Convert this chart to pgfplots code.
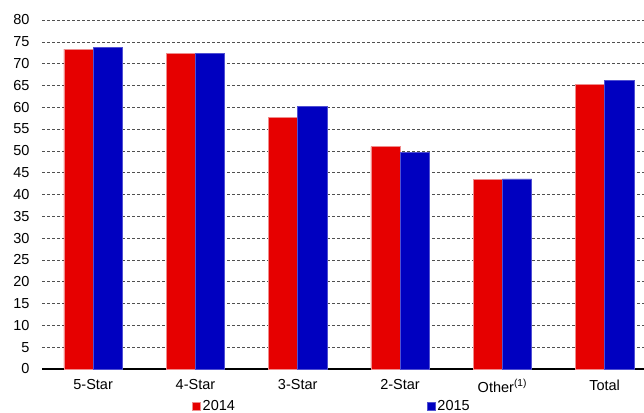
\documentclass[border=0pt]{standalone}
\usepackage{pgfplots}
\pgfplotsset{compat=1.18}
\usepackage{fontspec}
\setmainfont{Liberation Sans}
\definecolor{cred}{RGB}{230,0,0}
\definecolor{cblue}{RGB}{0,0,192}
\definecolor{ered}{RGB}{240,140,140}
\definecolor{eblue}{RGB}{80,80,210}
\definecolor{gridgray}{RGB}{80,80,80}
\begin{document}
\begin{tikzpicture}
\begin{axis}[
  scale only axis,
  width=602pt, height=349pt,
  ymin=0, ymax=80,
  xmin=-0.5, xmax=5.385,
  ytick={0,5,...,80},
  xtick={0,1,2,3,4,5},
  xticklabels={5-Star,4-Star,3-Star,2-Star,Other\textsuperscript{(1)},Total},
  ybar=0pt, bar width=0.286,
  axis x line*=bottom, axis y line*=left,
  y axis line style={draw=none},
  x axis line style={black, line width=2pt},
  major tick length=0pt,
  ymajorgrids,
  grid style={dash pattern=on 3pt off 2pt, gridgray, line width=0.6pt},
  font=\fontsize{14.5}{17}\selectfont,
  /pgf/number format/assume math mode=true,
  yticklabel style={xshift=-9pt},
  xticklabel style={yshift=-7pt},
  legend columns=2,
  legend style={at={(0.4817,0)}, anchor=north, yshift=-29pt, draw=none,
    font=\fontsize{14.5}{17}\selectfont, inner sep=0pt,
    /tikz/every even column/.append style={column sep=190pt}},
  legend image code/.code={\fill[#1] (1pt,-4pt) rectangle (9pt,4pt);},
]
\addplot[fill=cred, draw=ered, line width=0.5pt] coordinates {(0,73.3) (1,72.3) (2,57.6) (3,51.0) (4,43.4) (5,65.2)};
\addplot[fill=cblue, draw=eblue, line width=0.5pt] coordinates {(0,73.7) (1,72.3) (2,60.2) (3,49.7) (4,43.6) (5,66.1)};
\legend{2014,2015}
\end{axis}
\pgfresetboundingbox
\path ([xshift=-42pt,yshift=-43pt]current axis.south west) rectangle ([yshift=20pt]current axis.north east);
\end{tikzpicture}
\end{document}
